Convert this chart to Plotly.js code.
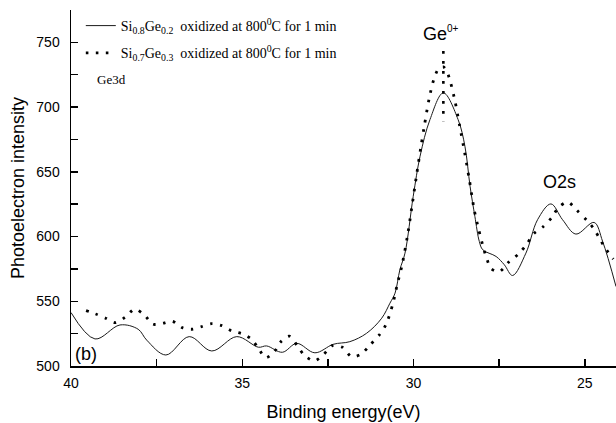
<!DOCTYPE html>
<html>
<head>
<meta charset="utf-8">
<script src="https://cdn.plot.ly/plotly-3.0.1.min.js"></script>
<style>html,body{margin:0;padding:0;background:#fff;}</style>
</head>
<body>
<div id="chart" style="width:616px;height:423px;"></div>
<script>
// Binding energy (eV) and photoelectron intensity
const solidName = "Si<sub>0.8</sub>Ge<sub>0.2</sub>  oxidized at 800<sup>0</sup>C for 1 min";
const dottedName = "Si<sub>0.7</sub>Ge<sub>0.3</sub>  oxidized at 800<sup>0</sup>C for 1 min";

const solidX = [40.00, 39.30, 38.57, 38.04, 37.79, 37.23, 36.55, 35.89, 35.16, 34.53, 34.29, 33.83, 33.41, 32.88, 32.34, 31.86, 31.37, 30.93, 30.69, 30.54, 30.40, 30.25, 30.01, 29.81, 29.52, 29.13, 28.70, 28.50, 28.35, 28.21, 28.08, 27.98, 27.59, 27.35, 27.11, 26.72, 26.38, 25.99, 25.65, 25.26, 24.73, 24.48, 24.09];
const solidY = [541.3, 520.9, 531.7, 528.4, 520.0, 508.5, 522.7, 511.6, 522.7, 514.5, 515.5, 510.6, 517.5, 510.2, 516.8, 518.8, 525.3, 536.9, 548.5, 556.3, 574.3, 587.2, 631.0, 662.0, 690.4, 711.0, 690.4, 669.7, 638.8, 615.6, 596.2, 589.8, 584.6, 578.2, 569.9, 587.2, 613.0, 625.2, 613.0, 601.9, 610.9, 596.2, 561.4];

const dottedX = [39.56, 39.28, 38.99, 38.70, 38.42, 38.14, 37.86, 37.61, 37.32, 37.04, 36.75, 36.47, 36.19, 35.89, 35.60, 35.31, 35.02, 34.75, 34.53, 34.32, 34.07, 33.89, 33.63, 33.39, 33.19, 32.90, 32.64, 32.37, 32.08, 31.81, 31.54, 31.27, 31.00, 30.81, 30.61, 30.48, 30.34, 30.18, 30.05, 29.92, 29.79, 29.69, 29.54, 29.40, 29.27, 29.13, 29.03, 28.93, 28.79, 28.65, 28.52, 28.37, 28.23, 28.10, 27.95, 27.86, 27.74, 27.50, 27.22, 26.93, 26.69, 26.49, 26.21, 25.96, 25.77, 25.50, 25.23, 24.94, 24.73, 24.55, 24.37, 24.17];
const dottedY = [542.8, 540.2, 536.9, 533.5, 537.7, 543.9, 539.5, 532.3, 533.0, 534.6, 529.6, 528.4, 530.4, 532.7, 531.2, 527.1, 525.0, 521.2, 513.7, 506.4, 510.8, 518.3, 523.0, 515.5, 508.3, 503.9, 508.5, 515.7, 514.5, 507.2, 509.0, 516.3, 524.0, 531.7, 547.5, 562.5, 577.4, 600.1, 622.8, 646.0, 668.5, 684.7, 707.2, 722.1, 729.6, 731.0, 727.8, 720.0, 704.6, 685.0, 666.6, 643.7, 620.7, 605.5, 590.3, 582.8, 575.3, 572.8, 580.3, 586.7, 594.4, 602.2, 607.8, 614.8, 622.5, 626.7, 620.2, 612.5, 605.8, 597.5, 589.8, 582.6];

// vertical dotted marker at the Ge0+ peak
const peakX = [29.13, 29.13];
const peakY = [743.3, 689.0];

const xTicks = [40, 35, 30, 25];
const yTicks = [500, 550, 600, 650, 700, 750];

const dotDash = "2.6px,7.4px";

const traces = [
  {x: solidX, y: solidY, name: solidName, type: 'scatter', mode: 'lines',
   line: {color: '#1a1a1a', width: 1, shape: 'spline', smoothing: 1}, legendgroup: 'a'},
  {x: dottedX, y: dottedY, name: dottedName, type: 'scatter', mode: 'lines',
   line: {color: '#000', width: 2.8, dash: dotDash, shape: 'spline', smoothing: 0.8}, legendgroup: 'b'},
  {x: peakX, y: peakY, name: 'peak', type: 'scatter', mode: 'lines', showlegend: false,
   line: {color: '#000', width: 2.6, dash: dotDash}}
];

const axisCommon = {
  showline: true, linecolor: '#000', linewidth: 1.5,
  ticks: 'inside', ticklen: 7, tickwidth: 1.5, tickcolor: '#000',
  showgrid: false, zeroline: false,
  tickfont: {family: 'Liberation Sans, Arial, sans-serif', size: 14, color: '#000'}
};

const layout = {
  width: 616, height: 423,
  margin: {l: 71, r: 0, t: 10, b: 57},
  paper_bgcolor: '#fff', plot_bgcolor: '#fff',
  showlegend: true,
  legend: {
    x: 0.018, y: 1.0, xanchor: 'left', yanchor: 'top',
    bgcolor: 'rgba(0,0,0,0)', borderwidth: 0,
    font: {family: 'Liberation Serif, Times New Roman, serif', size: 14, color: '#000'},
    tracegroupgap: 6
  },
  xaxis: Object.assign({}, axisCommon, {
    range: [40, 24.09], tickmode: 'array', tickvals: xTicks, ticktext: xTicks.map(String),
    minor: {dtick: 2.5, tick0: 0, ticks: 'inside', ticklen: 7, tickwidth: 1.5, tickcolor: '#000'},
    ticklabelstandoff: 4,
    title: {text: 'Binding energy(eV)', font: {family: 'Liberation Sans, Arial, sans-serif', size: 18, color: '#000'}, standoff: 15}
  }),
  yaxis: Object.assign({}, axisCommon, {
    range: [500, 775], tickmode: 'array', tickvals: yTicks, ticktext: yTicks.map(String),
    minor: {dtick: 25, tick0: 0, ticks: 'inside', ticklen: 7, tickwidth: 1.5, tickcolor: '#000'},
    ticklabelstandoff: 7,
    title: {text: 'Photoelectron intensity', font: {family: 'Liberation Sans, Arial, sans-serif', size: 18, color: '#000'}, standoff: 7}
  }),
  annotations: [
    {x: 29.2, y: 757, xref: 'x', yref: 'y', text: 'Ge<sup><span style="font-size:10px">0+</span></sup>', showarrow: false,
     font: {family: 'Liberation Sans, Arial, sans-serif', size: 18, color: '#000'}},
    {x: 25.73, y: 642.4, xref: 'x', yref: 'y', text: 'O2s', showarrow: false,
     font: {family: 'Liberation Sans, Arial, sans-serif', size: 18, color: '#000'}},
    {x: 38.83, y: 721.4, xref: 'x', yref: 'y', text: 'Ge3d', showarrow: false,
     font: {family: 'Liberation Serif, Times New Roman, serif', size: 13, color: '#000'}},
    {x: 0.004, y: 509.3, xref: 'paper', yref: 'y', xanchor: 'left', text: '(b)', showarrow: false,
     font: {family: 'Liberation Sans, Arial, sans-serif', size: 18, color: '#000'}}
  ]
};

Plotly.newPlot('chart', traces, layout, {staticPlot: true, displayModeBar: false});
</script>
</body>
</html>
